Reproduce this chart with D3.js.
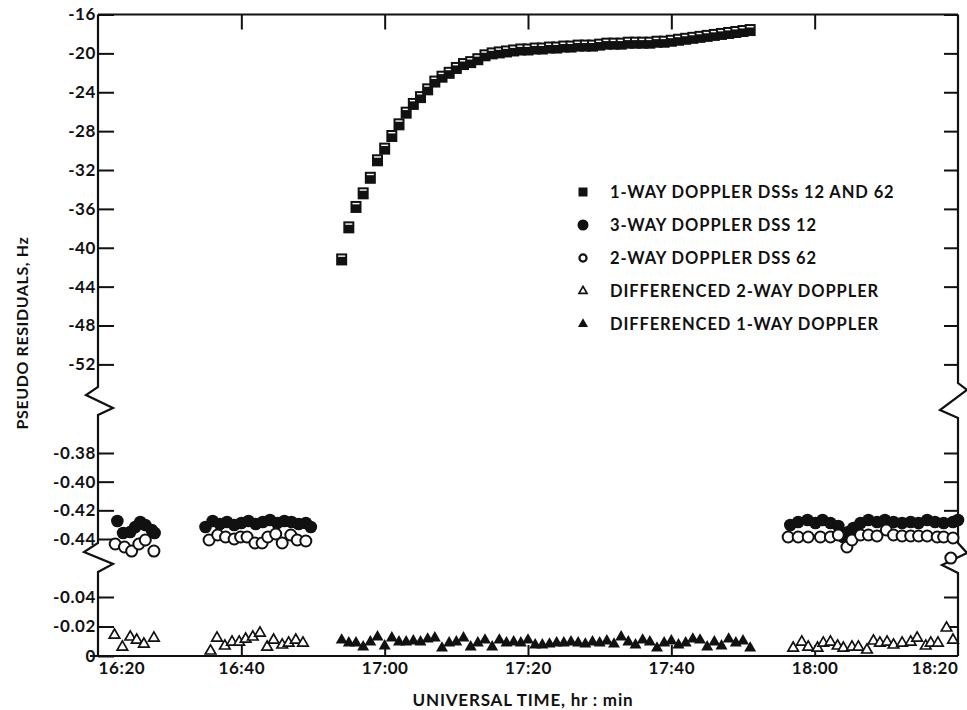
<!DOCTYPE html>
<html>
<head>
<meta charset="utf-8">
<script src="https://cdn.jsdelivr.net/npm/d3@7"></script>
<style>
  body { margin: 0; background: #fff; }
  svg text { font-family: Lato, "Open Sans", sans-serif; fill: #111; font-weight: bold; }
  .axis text { font-size: 17px; letter-spacing: 0.6px; }
  .axis line { stroke: #111; stroke-width: 2; }
</style>
</head>
<body>
<svg id="chart"></svg>
<script>
// ---- data (times in minutes after 16:00 UT, residuals in Hz) ----
const oneWayTime = [54, 55, 56, 57, 58, 59, 60, 61, 62, 63, 64, 65, 66, 67, 68, 69, 70, 71, 72, 73,
  74, 75, 76, 77, 78, 79, 80, 81, 82, 83, 84, 85, 86, 87, 88, 89, 90, 91, 92, 93,
  94, 95, 96, 97, 98, 99, 100, 101, 102, 103, 104, 105, 106, 107, 108, 109, 110, 111];
const oneWayHz = [-41.2, -37.9, -35.8, -34.4, -32.8, -31.0, -29.8, -28.5, -27.3, -26.1,
  -25.2, -24.5, -23.7, -22.9, -22.4, -22.0, -21.5, -21.1, -20.9, -20.6,
  -20.2, -20.0, -19.9, -19.8, -19.7, -19.6, -19.6, -19.5, -19.5, -19.4,
  -19.4, -19.3, -19.3, -19.2, -19.2, -19.2, -19.1, -19.0, -19.0, -19.0,
  -18.9, -18.9, -18.9, -18.9, -18.8, -18.8, -18.7, -18.6, -18.5, -18.4,
  -18.3, -18.2, -18.1, -18.0, -17.9, -17.8, -17.7, -17.6];

const threeWayTime = [22.7, 23.5, 24.5, 25.2, 25.9, 26.6, 27.5, 27.9,
  35, 36, 37, 38, 39, 40, 41, 42, 43, 44, 45, 46, 47, 48, 49, 49.7,
  116.6, 117.7, 119.0, 120.1, 121.1, 122.2, 123.3, 124.0, 124.7, 125.4, 126.4, 127.5,
  128.7, 129.8, 131.0, 132.2, 133.4, 134.5, 135.7, 136.8, 138.0, 139.3, 140.0];
const threeWayHz = [-0.4274, -0.4358, -0.4351, -0.4316, -0.4281, -0.4302, -0.4337, -0.4358,
  -0.4316, -0.4274, -0.4295, -0.4281, -0.4302, -0.4288, -0.4274, -0.4295, -0.4281, -0.4267,
  -0.4288, -0.4274, -0.4281, -0.4295, -0.4288, -0.4316,
  -0.4302, -0.4281, -0.4267, -0.4288, -0.4267, -0.4288, -0.4309, -0.4386, -0.4351, -0.4323,
  -0.4288, -0.4267, -0.4281, -0.4267, -0.4281, -0.4288, -0.4281, -0.4288, -0.4267, -0.4281,
  -0.4288, -0.4281, -0.4267];

const twoWayTime = [22.4, 23.7, 24.7, 25.7, 26.6, 27.8,
  35.5, 36.7, 37.8, 39.0, 39.9, 40.8, 41.9, 42.9, 43.7, 44.8, 45.7, 46.9, 47.8, 49.0,
  116.3, 117.7, 119.1, 120.8, 122.2, 123.3, 124.5, 125.2, 126.4, 127.5, 128.7, 130.0,
  131.0, 132.2, 133.4, 134.5, 135.7, 137.1, 138.0, 139.3, 139.0];
const twoWayHz = [-0.4435, -0.4456, -0.4484, -0.4435, -0.4407, -0.4484,
  -0.4407, -0.4372, -0.4386, -0.4400, -0.4386, -0.4386, -0.4428, -0.4428, -0.4386, -0.4365,
  -0.4428, -0.4372, -0.4407, -0.4414,
  -0.4386, -0.4386, -0.4386, -0.4386, -0.4386, -0.4372, -0.4456, -0.4407, -0.4372, -0.4372,
  -0.4379, -0.4337, -0.4372, -0.4379, -0.4379, -0.4379, -0.4379, -0.4386, -0.4386, -0.4393,
  -0.4533];

const diff2Time = [22.3, 23.4, 24.5, 25.4, 26.4, 27.8,
  35.7, 36.6, 37.7, 38.7, 39.7, 40.6, 41.6, 42.6, 43.6, 44.5, 45.7, 46.6, 47.6, 48.6,
  117.0, 118.2, 119.1, 120.4, 121.2, 122.2, 123.2, 124.0, 125.2, 126.1, 127.3, 128.2,
  129.1, 130.1, 131.0, 132.2, 133.4, 134.3, 135.5, 136.2, 137.2, 138.4, 139.3];
const diff2Hz = [-0.0142, -0.0061, -0.0129, -0.0108, -0.0081, -0.0122,
  -0.0034, -0.0122, -0.0068, -0.0095, -0.0095, -0.0115, -0.0129, -0.0156, -0.0061, -0.0108,
  -0.0075, -0.0088, -0.0108, -0.0088,
  -0.0054, -0.0095, -0.0061, -0.0054, -0.0088, -0.0095, -0.0068, -0.0054, -0.0061, -0.0061,
  -0.0041, -0.0102, -0.0088, -0.0095, -0.0075, -0.0088, -0.0095, -0.0122, -0.0068, -0.0088,
  -0.0088, -0.0190, -0.0108];

// differenced 1-way shares the 1-way sample times
const diff1Hz = [-0.0108, -0.0088, -0.0088, -0.0061, -0.0095, -0.0129, -0.0068, -0.0122, -0.0095, -0.0095,
  -0.0102, -0.0095, -0.0115, -0.0122, -0.0054, -0.0088, -0.0095, -0.0122, -0.0061, -0.0088,
  -0.0108, -0.0061, -0.0108, -0.0088, -0.0095, -0.0088, -0.0108, -0.0075, -0.0075, -0.0081,
  -0.0088, -0.0088, -0.0095, -0.0088, -0.0081, -0.0095, -0.0088, -0.0102, -0.0081, -0.0129,
  -0.0095, -0.0075, -0.0108, -0.0095, -0.0054, -0.0088, -0.0102, -0.0075, -0.0088, -0.0115,
  -0.0108, -0.0061, -0.0095, -0.0068, -0.0115, -0.0088, -0.0102, -0.0054];

const topTicks = [-16, -20, -24, -28, -32, -36, -40, -44, -48, -52];
const midTicks = [-0.38, -0.40, -0.42, -0.44];
const botTicks = [-0.04, -0.02, 0];
const timeTicks = [20, 40, 60, 80, 100, 120, 140];

const legendLabels = [
  "1-WAY DOPPLER DSSs 12 AND 62",
  "3-WAY DOPPLER DSS 12",
  "2-WAY DOPPLER DSS 62",
  "DIFFERENCED 2-WAY DOPPLER",
  "DIFFERENCED 1-WAY DOPPLER"
];

// ---- layout ----
const W = 967, H = 710;
const plotL = 98, plotR = 958, plotT = 14.5, plotB = 656;
const break1 = 387, break2 = 543; // where the axis breaks start

const base = new Date(2000, 0, 1, 16, 0, 0);
const toDate = m => new Date(base.getTime() + m * 60000);

const svg = d3.select("#chart").attr("width", W).attr("height", H);

const x = d3.scaleTime().domain([toDate(20), toDate(140)]).range([plotL, plotR]);
const yTop = d3.scaleLinear().domain([-52, -16]).range([364.4, plotT]);
const yMid = d3.scaleLinear().domain([-0.44, -0.38]).range([539, 453]);
const yBot = d3.scaleLinear().domain([-0.04, 0]).range([597, plotB]);

const dashFmt = f => d => d3.format(f)(d).replace("\u2212", "-");

// left axis, three pieces
function leftAxis(scale, ticks, fmt) {
  svg.append("g").attr("class", "axis")
    .attr("transform", `translate(${plotL},0)`)
    .call(d3.axisLeft(scale).tickValues(ticks).tickSize(-16).tickPadding(2).tickFormat(dashFmt(fmt)))
    .call(g => g.select(".domain").remove());
}
leftAxis(yTop, topTicks, "d");
leftAxis(yMid, midTicks, ".2f");
leftAxis(yBot, botTicks, ".2~f");

function rightAxis(scale, ticks) {
  svg.append("g").attr("class", "axis")
    .attr("transform", `translate(${plotR},0)`)
    .call(d3.axisRight(scale).tickValues(ticks).tickSize(-14).tickFormat(""))
    .call(g => g.select(".domain").remove());
}
rightAxis(yTop, topTicks);
rightAxis(yMid, midTicks);
rightAxis(yBot, botTicks.slice(0, 2));

// top & bottom time axes
svg.append("g").attr("class", "axis")
  .attr("transform", `translate(0,${plotT})`)
  .call(d3.axisTop(x).tickValues(timeTicks.slice(1, -1).map(toDate)).tickSize(-15).tickFormat(""))
  .call(g => g.select(".domain").remove());

const xAxisG = svg.append("g").attr("class", "axis")
  .attr("transform", `translate(0,${plotB})`)
  .call(d3.axisBottom(x).tickValues(timeTicks.map(toDate)).tickSize(-11).tickPadding(6)
    .tickFormat(d3.timeFormat("%H:%M")))
  .call(g => g.select(".domain").remove());
const xTicks = xAxisG.selectAll(".tick");
const nX = xTicks.size();
xTicks.filter((d, i) => i === 0 || i === nX - 1).select("line").remove();
xTicks.filter((d, i) => i === 0).select("text").attr("text-anchor", "start");
xTicks.filter((d, i) => i === nX - 1).select("text").attr("text-anchor", "end");

// frame with broken axes
const lineGen = d3.line();
const frameStyle = p => p.attr("fill", "none").attr("stroke", "#111").attr("stroke-width", 2.2);
svg.append("path").call(frameStyle).attr("d", lineGen([[plotL, plotT], [plotR, plotT]]));
svg.append("path").call(frameStyle).attr("d", lineGen([[plotL - 8, plotB], [plotR, plotB]]));
svg.append("path").call(frameStyle).attr("d", lineGen([
  [plotL, plotT], [plotL, break1], [plotL - 12, break1 + 8], [plotL + 15, break1 + 21], [plotL, break1 + 28],
  [plotL, break2], [plotL - 14, break2 + 9], [plotL + 15, break2 + 21], [plotL, break2 + 29], [plotL, plotB]]));
svg.append("path").call(frameStyle).attr("d", lineGen([
  [plotR, plotT], [plotR, break1 - 4], [plotR + 9, break1 + 3], [plotR - 18, break1 + 23], [plotR, break1 + 31],
  [plotR, break2], [plotR + 9, break2 + 10], [plotR - 16, break2 + 22], [plotR, break2 + 30], [plotR, plotB]]));

// ---- marks ----
const sym = (type, size) => d3.symbol().type(type).size(size)();

// 1-way squares: black square with a thin white stripe near the top
const sq = svg.append("g").selectAll("g").data(oneWayTime.map((t, i) => [t, oneWayHz[i]]))
  .join("g")
  .attr("transform", d => `translate(${x(toDate(d[0]))},${yTop(d[1])})`);
sq.append("rect").attr("x", -5.5).attr("y", -6).attr("width", 11).attr("height", 12).attr("fill", "#111");
sq.append("rect").attr("x", -3.5).attr("y", -4).attr("width", 7).attr("height", 1.4).attr("fill", "#fff");

// 3-way filled circles
svg.append("g").selectAll("path").data(threeWayTime.map((t, i) => [t, threeWayHz[i]]))
  .join("path")
  .attr("d", sym(d3.symbolCircle, 125))
  .attr("transform", d => `translate(${x(toDate(d[0]))},${yMid(d[1])})`)
  .attr("fill", "#111");

// 2-way open circles
svg.append("g").selectAll("path").data(twoWayTime.map((t, i) => [t, twoWayHz[i]]))
  .join("path")
  .attr("d", sym(d3.symbolCircle, 95))
  .attr("transform", d => `translate(${x(toDate(d[0]))},${yMid(d[1])})`)
  .attr("fill", "#fff").attr("stroke", "#111").attr("stroke-width", 2);

// differenced 1-way filled triangles
svg.append("g").selectAll("path").data(oneWayTime.map((t, i) => [t, diff1Hz[i]]))
  .join("path")
  .attr("d", sym(d3.symbolTriangle, 62))
  .attr("transform", d => `translate(${x(toDate(d[0]))},${yBot(d[1])})`)
  .attr("fill", "#111");

// differenced 2-way open triangles
svg.append("g").selectAll("path").data(diff2Time.map((t, i) => [t, diff2Hz[i]]))
  .join("path")
  .attr("d", sym(d3.symbolTriangle, 48))
  .attr("transform", d => `translate(${x(toDate(d[0]))},${yBot(d[1])})`)
  .attr("fill", "#fff").attr("stroke", "#111").attr("stroke-width", 1.7);

// ---- legend ----
const legend = svg.append("g").attr("transform", "translate(583,192)");
const legendSym = [
  g => g.append("rect").attr("x", -4.5).attr("y", -4.5).attr("width", 9).attr("height", 9).attr("fill", "#111"),
  g => g.append("path").attr("d", sym(d3.symbolCircle, 95)).attr("fill", "#111"),
  g => g.append("path").attr("d", sym(d3.symbolCircle, 40)).attr("fill", "#fff").attr("stroke", "#111").attr("stroke-width", 2.2),
  g => g.append("path").attr("d", sym(d3.symbolTriangle, 28)).attr("fill", "#fff").attr("stroke", "#111").attr("stroke-width", 1.7),
  g => g.append("path").attr("d", sym(d3.symbolTriangle, 44)).attr("fill", "#111")
];
legendLabels.forEach((lab, i) => {
  const row = legend.append("g").attr("transform", `translate(0,${i * 33})`);
  legendSym[i](row);
  row.append("text").attr("x", 27).attr("dy", "0.36em")
    .style("font-size", "16.5px").style("letter-spacing", "0.9px").text(lab);
});

// ---- axis titles ----
svg.append("text")
  .attr("transform", "translate(28,333) rotate(-90)")
  .attr("text-anchor", "middle")
  .style("font-size", "16px").style("letter-spacing", "0.6px")
  .text("PSEUDO RESIDUALS, Hz");

svg.append("text")
  .attr("x", 523).attr("y", 706)
  .attr("text-anchor", "middle")
  .style("font-size", "17px").style("letter-spacing", "0.8px")
  .text("UNIVERSAL TIME, hr : min");
</script>
</body>
</html>
